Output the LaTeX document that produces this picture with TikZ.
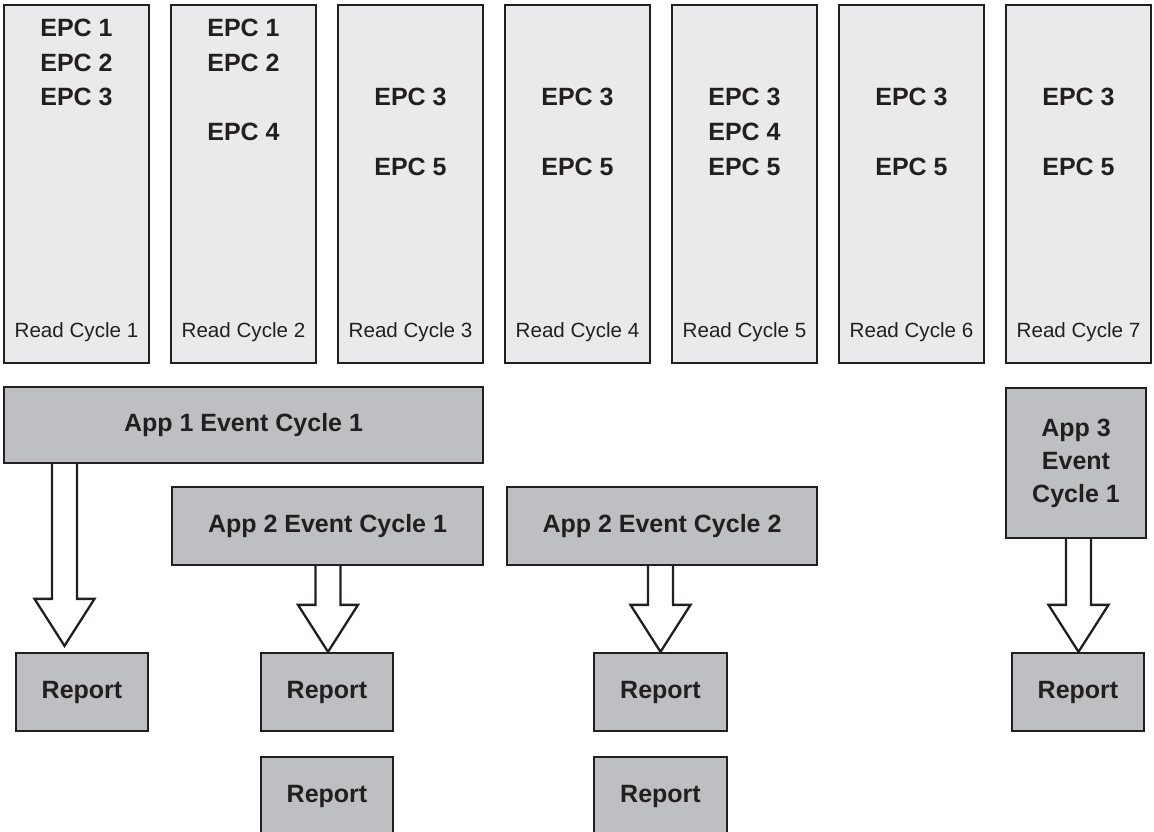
\documentclass[tikz,border=0pt]{standalone}
\usepackage{fontspec}
\setmainfont{Liberation Sans}
\usetikzlibrary{calc}
\definecolor{ink}{HTML}{231F20}
\definecolor{readfill}{HTML}{EAEAEC}
\definecolor{eventfill}{HTML}{BEBFC2}
\tikzset{
  readbox/.style={draw=ink, fill=readfill, line width=2.3pt, minimum width=145pt, minimum height=358pt, inner sep=0pt},
  eventbox/.style={draw=ink, fill=eventfill, line width=2.3pt, inner sep=0pt, text=ink, align=center,
    font=\fontsize{25}{33}\selectfont\bfseries},
  epc/.style={inner sep=0pt, text=ink, font=\fontsize{25}{30}\selectfont\bfseries},
  cyclelabel/.style={inner sep=0pt, text=ink, anchor=base, font=\fontsize{20.6}{24}\selectfont},
  hollow/.style={draw=ink, line width=2.3pt, line join=miter}
}
% #1 = x of the shaft, #2 = start point, #3 = tip point
\newcommand{\hollowarrow}[3]{%
  \draw[hollow] let \p1=(#1,0), \p2=(#2), \p3=(#3) in
    (\x1-12.5pt,\y2) -- (\x1-12.5pt,\y3+47pt) -- (\x1-30pt,\y3+47pt) -- (\x1,\y3)
    -- (\x1+30pt,\y3+47pt) -- (\x1+12.5pt,\y3+47pt) -- (\x1+12.5pt,\y2);
}

\begin{document}
\begin{tikzpicture}[x=1pt, y=-1pt]
    \useasboundingbox (0,0) rectangle (1154,832);

    \foreach \i in {1,...,7} {
      \node[readbox] (rc\i) at ({76.5+167*(\i-1)},184) {};
      \node[cyclelabel] (lbl\i) at ({76.5+167*(\i-1)},337.5) {Read Cycle \i};
    }
    \foreach \c/\n/\r in {1/1/0, 1/2/1, 1/3/2, 2/1/0, 2/2/1, 2/4/3, 3/3/2, 3/5/4, 4/3/2,
                          4/5/4, 5/3/2, 5/4/3, 5/5/4, 6/3/2, 6/5/4, 7/3/2, 7/5/4}
      \node[epc] (epc\c-\n) at ({76.5+167*(\c-1)},{28+34.6*\r}) {EPC \n};

    \node[eventbox, minimum width=479pt, minimum height=76pt] (app1) at (243.5,425) {App 1 Event Cycle 1};
    \node[eventbox, minimum width=311pt, minimum height=78pt] (app2a) at (327.5,526) {App 2 Event Cycle 1};
    \node[eventbox, minimum width=310pt, minimum height=78pt] (app2b) at (662,526) {App 2 Event Cycle 2};
    \node[eventbox, minimum width=140pt, minimum height=150pt] (app3) at (1076,463) {App 3\\Event\\Cycle 1};

    \node[eventbox, minimum width=132pt, minimum height=78pt] (rep1) at (82,692) {Report};
    \node[eventbox, minimum width=132pt, minimum height=78pt] (rep2a) at (327,692) {Report};
    \node[eventbox, minimum width=132pt, minimum height=78pt] (rep2b) at (327,796) {Report};
    \node[eventbox, minimum width=133pt, minimum height=78pt] (rep3a) at (660.5,692) {Report};
    \node[eventbox, minimum width=133pt, minimum height=78pt] (rep3b) at (660.5,796) {Report};
    \node[eventbox, minimum width=132pt, minimum height=78pt] (rep4) at (1078,692) {Report};

    \hollowarrow{64.5}{app1.south}{$(rep1.north)+(0,-6)$}
    \hollowarrow{328}{app2a.south}{rep2a.north}
    \hollowarrow{660.5}{app2b.south}{rep3a.north}
    \hollowarrow{1078.5}{app3.south}{rep4.north}
\end{tikzpicture}
\end{document}
